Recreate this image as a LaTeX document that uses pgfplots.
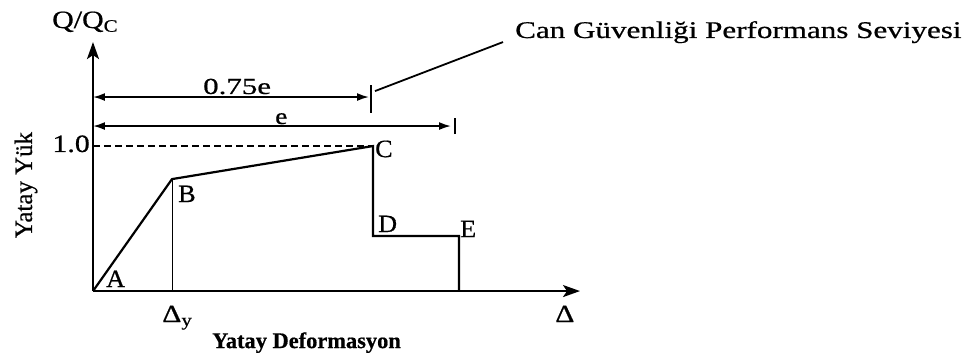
\documentclass[border=0pt]{standalone}
\usepackage{fontspec}
\setmainfont{Liberation Serif}[FakeBold=0.6]
\usepackage{graphicx}
\usepackage{pgfplots}
\pgfplotsset{compat=1.18}
\usetikzlibrary{arrows.meta}
\newcommand\sx[2]{\scalebox{#1}[1]{#2}}
\newcommand\fs[1]{\fontsize{#1}{#1}\selectfont}

\begin{document}
\begin{tikzpicture}
\begin{axis}[
  scale only axis, width=487bp, height=249bp,
  xmin=0, xmax=487, ymin=0, ymax=1.717,
  axis lines=left,
  axis line style={line width=2.2bp},
  x axis line style={-{Stealth[length=17bp,width=12bp,inset=4bp]}},
  y axis line style={-{Stealth[length=17bp,width=12bp,inset=4bp]}},
  xtick=\empty, ytick=\empty,
  clip=false,
]
% bounding box of the whole picture (970 x 358)
\path (axis cs:-93,-0.462) rectangle (axis cs:877,2.007);

% capacity curve A-B-C-D-E
\addplot[line width=2.2bp, line join=miter] coordinates {(0,0) (79,0.772) (280,1.0) (280,0.379) (366,0.379) (366,0)};
% Delta_y guide
\addplot[line width=0.9bp] coordinates {(79,0) (79,0.772)};
% Q/Qc = 1.0 dashed
\addplot[line width=1.4bp, dash pattern=on 7bp off 4bp] coordinates {(0,1) (280,1)};
% 0.75e dimension
\addplot[line width=1.8bp, {Latex[length=12bp,width=8bp]}-{Latex[length=12bp,width=8bp]}] coordinates {(0,1.338) (276,1.338)};
\addplot[line width=2.2bp] coordinates {(278,1.228) (278,1.421)};
% e dimension
\addplot[line width=1.8bp, {Latex[length=12bp,width=8bp]}-{Latex[length=12bp,width=8bp]}] coordinates {(0,1.138) (358,1.138)};
\addplot[line width=1.8bp] coordinates {(362,1.083) (362,1.193)};
% leader line
\addplot[line width=1.8bp] coordinates {(282,1.379) (410,1.717)};

% texts
\node[anchor=base west, font=\fs{24}, inner sep=0pt] at (axis cs:422,1.745) {\sx{1.3}{Can Güvenliği Performans Seviyesi}};
\node[anchor=base west, font=\fs{23}, inner sep=0pt] at (axis cs:110,1.359) {\sx{1.35}{0.75e}};
\node[anchor=base west, font=\fs{23}, inner sep=0pt] at (axis cs:182,1.152) {\sx{1.2}{e}};
\node[anchor=base east, font=\fs{25}, inner sep=0pt] at (axis cs:-3,0.959) {\sx{1.2}{1.0}};
\node[anchor=base west, font=\fs{25}, inner sep=0pt] at (axis cs:-41,1.814) {\sx{1.2}{Q/Q\textsubscript{C}}};
\node[anchor=base, rotate=90, font=\fs{25}, inner sep=0pt] at (axis cs:-61,0.731) {Yatay Yük};
\node[anchor=base west, font=\fs{25}, inner sep=0pt] at (axis cs:13,0.028) {\sx{1.05}{A}};
\node[anchor=base west, font=\fs{25}, inner sep=0pt] at (axis cs:85,0.614) {\sx{1.05}{B}};
\node[anchor=base west, font=\fs{25}, inner sep=0pt] at (axis cs:282,0.924) {\sx{1.05}{C}};
\node[anchor=base west, font=\fs{25}, inner sep=0pt] at (axis cs:285,0.407) {\sx{1.05}{D}};
\node[anchor=base west, font=\fs{25}, inner sep=0pt] at (axis cs:367,0.372) {\sx{1.05}{E}};
\node[anchor=base west, font=\fs{25}, inner sep=0pt] at (axis cs:69,-0.214) {\sx{1.2}{Δ\textsubscript{y}}};
\node[anchor=base west, font=\fs{25}, inner sep=0pt] at (axis cs:462,-0.214) {\sx{1.2}{Δ}};
\node[anchor=base, font=\bfseries\fs{22.5}, inner sep=0pt] at (axis cs:213.5,-0.393) {Yatay Deformasyon};
\end{axis}
\end{tikzpicture}
\end{document}
